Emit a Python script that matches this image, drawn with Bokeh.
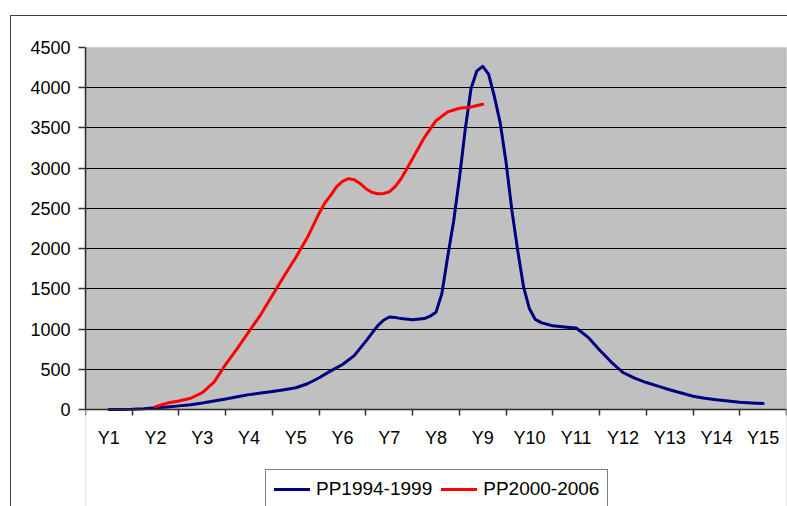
from bokeh.plotting import figure
from bokeh.models import (FixedTicker, Range1d, Legend, LegendItem,
                          BoxAnnotation, InlineStyleSheet)
from bokeh.embed import file_html
from bokeh.resources import INLINE

# ---- data ----
categories = ["Y1", "Y2", "Y3", "Y4", "Y5", "Y6", "Y7", "Y8",
              "Y9", "Y10", "Y11", "Y12", "Y13", "Y14", "Y15"]
y_ticks = [0, 500, 1000, 1500, 2000, 2500, 3000, 3500, 4000, 4500]

# positions along the category axis (1 = Y1 ... 15 = Y15)
pp1994_x = [1.0, 1.25, 1.5, 1.75, 2.0, 2.25, 2.5, 2.75, 3.0, 3.25, 3.5, 3.75,
            4.0, 4.25, 4.5, 4.75, 5.0, 5.25, 5.5, 5.75, 6.0, 6.25, 6.5, 6.75,
            6.875, 7.0, 7.125, 7.25, 7.5, 7.75, 7.875, 8.0, 8.125, 8.25, 8.375,
            8.5, 8.625, 8.75, 8.875, 9.0, 9.125, 9.25, 9.375, 9.5, 9.625, 9.75,
            9.875, 10.0, 10.125, 10.25, 10.5, 10.75, 11.0, 11.25, 11.5, 11.75,
            12.0, 12.25, 12.5, 12.75, 13.0, 13.25, 13.5, 13.75, 14.0, 14.25,
            14.5, 14.75, 15.0]
pp1994_y = [0, 0, 3, 10, 22, 32, 45, 60, 80, 105, 130, 158,
            185, 205, 225, 245, 270, 320, 395, 480, 560, 670, 850, 1040,
            1110, 1150, 1145, 1130, 1115, 1130, 1160, 1210, 1440, 1900, 2330,
            2870, 3480, 3990, 4210, 4265, 4170, 3890, 3560, 3070, 2470, 1970,
            1520, 1252, 1120, 1080, 1040, 1025, 1013, 900, 740, 590,
            460, 390, 335, 290, 245, 205, 165, 140, 120, 105,
            90, 82, 75]

pp2000_x = [2.0, 2.25, 2.5, 2.75, 3.0, 3.25, 3.5, 3.75, 4.0, 4.25, 4.5, 4.75,
            5.0, 5.25, 5.5, 5.625, 5.75, 5.875, 6.0, 6.125, 6.25, 6.375, 6.5,
            6.625, 6.75, 6.875, 7.0, 7.125, 7.25, 7.375, 7.5, 7.75,
            8.0, 8.25, 8.5, 8.75, 9.0]
pp2000_y = [35, 80, 105, 140, 210, 340, 560, 760, 970, 1180, 1420, 1660,
            1890, 2140, 2440, 2570, 2665, 2770, 2835, 2870, 2855, 2810, 2745,
            2700, 2682, 2685, 2705, 2770, 2865, 2990, 3120, 3380,
            3590, 3700, 3745, 3760, 3795]

FONT = "Liberation Sans"

# layout (pixels): plot area 362 px tall, with 97 px of chart area below it
PLOT_H, BELOW_H = 362, 97
y_bottom = y_ticks[0] - (y_ticks[-1] - y_ticks[0]) * BELOW_H / PLOT_H

p = figure(width=787, height=506, output_backend="svg", toolbar_location=None,
           x_range=Range1d(0.5, len(categories) + 0.5),
           y_range=Range1d(y_bottom, y_ticks[-1]),
           min_border_left=85, min_border_right=1, min_border_top=47,
           min_border_bottom=0)

p.background_fill_color = "#C0C0C0"
p.border_fill_color = "white"
p.outline_line_color = None

# white area under the plot area (where axis labels and legend sit)
p.add_layout(BoxAnnotation(top=0, fill_color="white", fill_alpha=1,
                           line_color=None, level="underlay"))
# plot-area border
p.add_layout(BoxAnnotation(left=0.5, right=len(categories) + 0.5,
                           bottom=y_ticks[0], top=y_ticks[-1],
                           fill_alpha=0, line_color="#808080", line_width=1.5,
                           level="underlay"))

# x axis at value 0: labels at category centres, tick marks between categories
xa = p.xaxis[0]
xa.fixed_location = 0
xa.ticker = FixedTicker(ticks=list(range(1, len(categories) + 1)),
                        minor_ticks=[i + 0.5 for i in range(len(categories) + 1)])
xa.major_label_overrides = {i + 1: c for i, c in enumerate(categories)}
xa.major_tick_line_color = None
xa.major_tick_out = 6
xa.major_tick_in = 0
xa.minor_tick_out = 6
xa.minor_tick_in = 0
xa.minor_tick_line_color = "#303030"
xa.minor_tick_line_width = 1.5
xa.axis_line_color = "#303030"
xa.axis_line_width = 1.5
xa.major_label_standoff = 12
xa.major_label_text_font = FONT
xa.major_label_text_font_size = "18px"
xa.major_label_text_color = "black"

ya = p.yaxis[0]
ya.bounds = (y_ticks[0], y_ticks[-1])
ya.ticker = FixedTicker(ticks=y_ticks, minor_ticks=[])
ya.major_tick_out = 7
ya.major_tick_in = 0
ya.major_tick_line_color = "#303030"
ya.major_tick_line_width = 1.5
ya.axis_line_color = "#303030"
ya.axis_line_width = 1.5
ya.major_label_standoff = 8
ya.major_label_text_font = FONT
ya.major_label_text_font_size = "18px"
ya.major_label_text_color = "black"

p.xgrid.grid_line_color = None
p.ygrid.ticker = FixedTicker(ticks=y_ticks[1:-1])
p.ygrid.grid_line_color = "black"
p.ygrid.grid_line_width = 1

r1 = p.line(pp1994_x, pp1994_y, line_color="#000080", line_width=3,
            line_join="round", line_cap="round")
r2 = p.line(pp2000_x, pp2000_y, line_color="#FF0000", line_width=3,
            line_join="round", line_cap="round")

legend = Legend(items=[LegendItem(label="PP1994-1999", renderers=[r1]),
                       LegendItem(label="PP2000-2006", renderers=[r2])],
                orientation="horizontal", location=(180, -3))
legend.spacing = 9
legend.label_standoff = 6
legend.glyph_width = 36
legend.glyph_height = 20
legend.label_height = 20
legend.padding = 8
legend.margin = 0
legend.border_line_color = "black"
legend.border_line_width = 1
legend.background_fill_color = "white"
legend.background_fill_alpha = 1
legend.label_text_font = FONT
legend.label_text_font_size = "19px"
legend.label_text_color = "black"
p.add_layout(legend)

# outer chart-area border (left and top edges; the rest lies outside the window)
p.stylesheets = [InlineStyleSheet(css="""
:host { position: relative; }
:host::after {
  content: ""; position: absolute; left: 10px; top: 15px; right: 0; bottom: 0;
  border-left: 1.5px solid #404040; border-top: 1.5px solid #404040;
  pointer-events: none; z-index: 100;
}
""")]

open("out.html", "w").write(file_html(p, INLINE))
